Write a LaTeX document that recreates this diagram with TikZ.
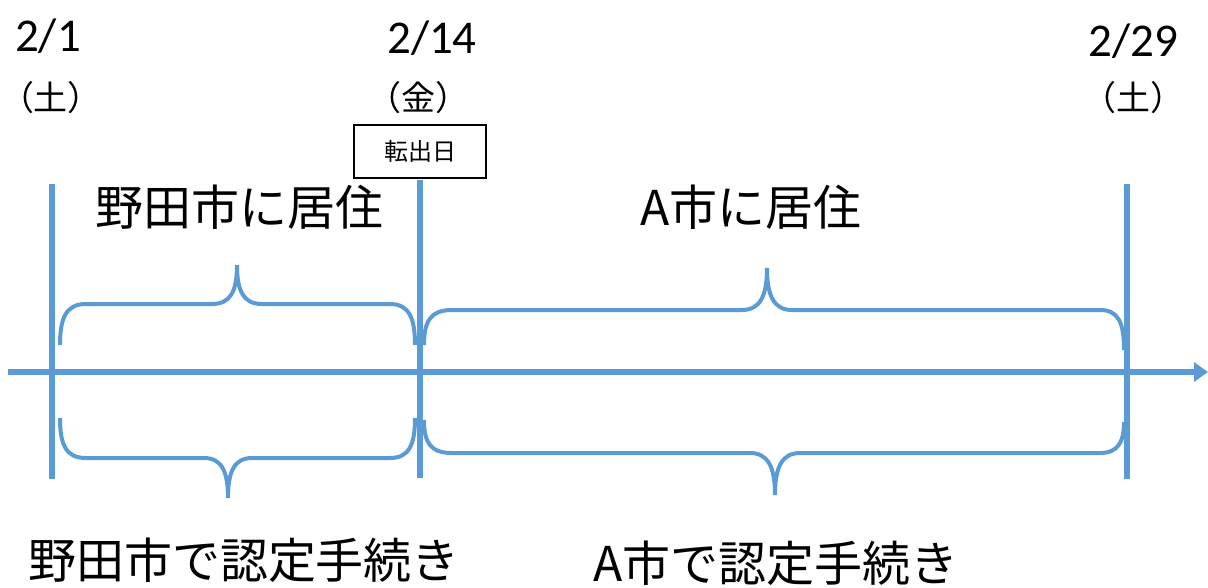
\documentclass[tikz,border=0pt]{standalone}
\usepackage{fontspec}
\setmainfont{Carlito}
\newfontfamily\jp{Noto Sans CJK JP}
\definecolor{tlblue}{HTML}{5B9BD5}
\usetikzlibrary{arrows.meta}
\tikzset{
  axisline/.style={draw=tlblue, line width=6.5pt},
  tick/.style={draw=tlblue, line width=6pt},
  brace/.style={draw=tlblue, line width=4pt},
  datelbl/.style={inner sep=0pt, font=\fontsize{47}{50}\selectfont},
  daylbl/.style={inner sep=0pt, font=\jp\fontsize{34}{38}\selectfont},
  biglbl/.style={inner sep=0pt, font=\jp\fontsize{48}{52}\selectfont},
  boxlbl/.style={draw=black, line width=1.8pt, minimum width=132pt, minimum height=53pt, inner sep=0pt, font=\jp\fontsize{24}{28}\selectfont}
}
\begin{document}
\begin{tikzpicture}[x=1pt,y=-1pt]
\useasboundingbox (0,0) rectangle (1208,587);
% axis
\coordinate (axL) at (8,372);
\coordinate (axR) at (1208,372);
\draw[axisline, -{Triangle[length=14pt,width=19pt]}] (axL) -- (axR);
% ticks
\coordinate (t1a) at (52,184); \coordinate (t1b) at (52,479);
\coordinate (t2a) at (420,180); \coordinate (t2b) at (420,478);
\coordinate (t3a) at (1127,184); \coordinate (t3b) at (1127,479);
\draw[tick] (t1a) -- (t1b);
\draw[tick] (t2a) -- (t2b);
\draw[tick] (t3a) -- (t3b);
% upper brace 1
\draw[brace] (60,345) .. controls (60,318) and (66,304) .. (86,304) -- (212,304)
  .. controls (230,304) and (237,292) .. (237,265)
  .. controls (237,292) and (244,304) .. (262,304) -- (390,304)
  .. controls (409,304) and (415,318) .. (415,345);
% lower brace 1
\draw[brace] (60,418) .. controls (60,445) and (66,458) .. (86,458) -- (204,458)
  .. controls (222,458) and (228,472) .. (228,498)
  .. controls (228,472) and (234,458) .. (252,458) -- (390,458)
  .. controls (409,458) and (415,445) .. (415,418);
% upper brace 2
\draw[brace] (424,345) .. controls (424,322) and (430,310) .. (452,310) -- (742,310)
  .. controls (760,310) and (767,296) .. (767,268)
  .. controls (767,296) and (774,310) .. (792,310) -- (1100,310)
  .. controls (1118,310) and (1124,322) .. (1124,350);
% lower brace 2
\draw[brace] (424,420) .. controls (424,442) and (430,453) .. (452,453) -- (750,453)
  .. controls (768,453) and (775,467) .. (775,495)
  .. controls (775,467) and (782,453) .. (800,453) -- (1100,453)
  .. controls (1118,453) and (1124,442) .. (1124,422);
% labels
\node[datelbl] (d1) at (48,36) {2/1};
\node[datelbl] (d2) at (432,38) {2/14};
\node[datelbl] (d3) at (1133,41) {2/29};
\node[daylbl] (w1) at (51,98) {（土）};
\node[daylbl] (w2) at (418,98) {（金）};
\node[daylbl] (w3) at (1133,98) {（土）};
\node[boxlbl] (move) at (420,151.5) {転出日};
\node[biglbl] (live1) at (239,207) {野田市に居住};
\node[biglbl] (live2) at (751,207) {A市に居住};
\node[biglbl] (proc1) at (244,560) {野田市で認定手続き};
\node[biglbl] (proc2) at (776,563) {A市で認定手続き};
\end{tikzpicture}
\end{document}
